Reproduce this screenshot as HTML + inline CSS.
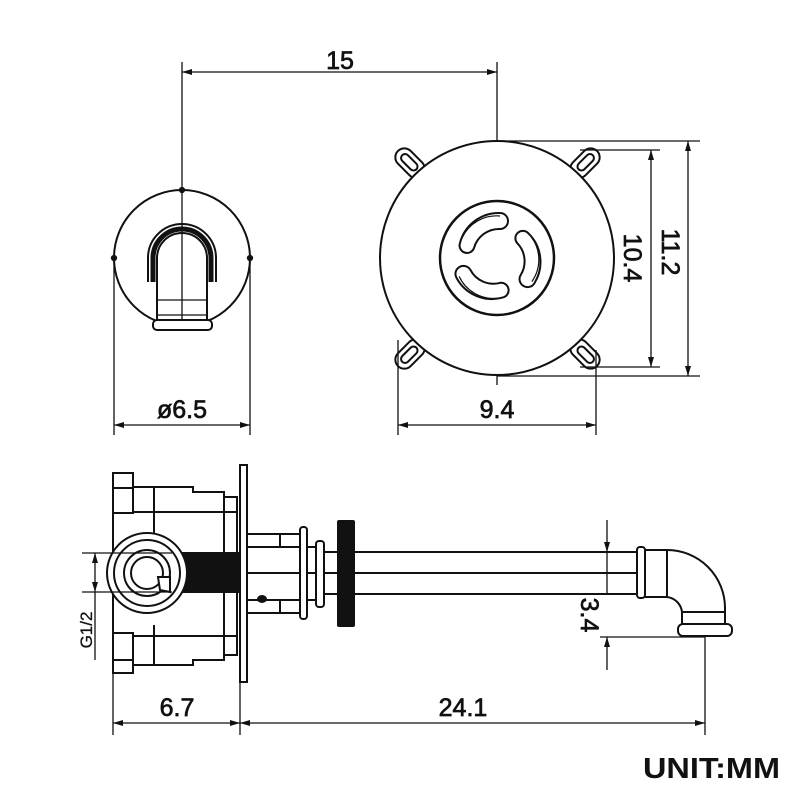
<!DOCTYPE html>
<html><head><meta charset="utf-8"><style>html,body{margin:0;padding:0;background:#fff}svg{display:block}text{font-family:"Liberation Sans",sans-serif;fill:#111}</style></head>
<body>
<svg width="800" height="800" viewBox="0 0 800 800" xmlns="http://www.w3.org/2000/svg">
<defs>
<marker id="a" viewBox="0 0 10 6" refX="10" refY="3" markerWidth="16" markerHeight="6" markerUnits="userSpaceOnUse" orient="auto-start-reverse"><path d="M0,0 L10,3 L0,6 z" fill="#111"/></marker>
</defs>
<g stroke="#111" fill="none" stroke-width="1.3">
<line x1="182" y1="62" x2="182" y2="330"/>
<line x1="497" y1="62" x2="497" y2="385"/>
<line x1="182" y1="72" x2="497" y2="72" marker-start="url(#a)" marker-end="url(#a)"/>
<circle cx="182" cy="258" r="68" stroke-width="2"/>
<circle cx="182" cy="190" r="2.5" fill="#111"/>
<circle cx="114" cy="258" r="2.5" fill="#111"/>
<circle cx="250" cy="258" r="2.5" fill="#111"/>
<path d="M148,282 L148,258 A34,34 0 0 1 216,258 L216,282" stroke-width="2"/>
<path d="M153,282 L153,258 A29,29 0 0 1 211,258 L211,282" stroke-width="5"/>
<path d="M157,320 L157,258 A25,25 0 0 1 207,258 L207,320" stroke-width="2"/>
<line x1="157" y1="300" x2="207" y2="300"/>
<line x1="157" y1="315" x2="207" y2="315"/>
<rect x="153" y="320" width="59" height="10" rx="4" stroke-width="2" fill="#fff"/>
<line x1="114" y1="258" x2="114" y2="435"/>
<line x1="250" y1="258" x2="250" y2="435"/>
<line x1="114" y1="425" x2="250" y2="425" marker-start="url(#a)" marker-end="url(#a)"/>
<g stroke-width="2">
<g transform="translate(410,163) rotate(-45)"><rect x="-9" y="-17" width="18" height="34" rx="9" fill="#fff"/><rect x="-4" y="-11" width="8" height="20" rx="4"/></g>
<g transform="translate(585,163) rotate(45)"><rect x="-9" y="-17" width="18" height="34" rx="9" fill="#fff"/><rect x="-4" y="-11" width="8" height="20" rx="4"/></g>
<g transform="translate(410,354) rotate(45)"><rect x="-9" y="-17" width="18" height="34" rx="9" fill="#fff"/><rect x="-4" y="-9" width="8" height="20" rx="4"/></g>
<g transform="translate(585,354) rotate(-45)"><rect x="-9" y="-17" width="18" height="34" rx="9" fill="#fff"/><rect x="-4" y="-9" width="8" height="20" rx="4"/></g>
<circle cx="497" cy="258" r="117" fill="#fff"/>
<circle cx="497" cy="258" r="57" stroke-width="2.5"/>
<g id="sl"><path d="M460,243 A40,40 0 0 1 500,213 A8,8 0 0 1 500,229 A26,26 0 0 0 474,248 A7,7 0 0 1 460,243 z"/><path d="M462,238 A38,38 0 0 1 500,216" stroke-width="1.2"/></g>
<use href="#sl" transform="rotate(120 497 258)"/>
<use href="#sl" transform="rotate(240 497 258)"/>
</g>
<line x1="497" y1="141" x2="700" y2="141"/>
<line x1="497" y1="376" x2="700" y2="376"/>
<line x1="580" y1="150" x2="660" y2="150"/>
<line x1="580" y1="367" x2="660" y2="367"/>
<line x1="651" y1="150" x2="651" y2="367" marker-start="url(#a)" marker-end="url(#a)"/>
<line x1="688" y1="141" x2="688" y2="376" marker-start="url(#a)" marker-end="url(#a)"/>
<line x1="398" y1="340" x2="398" y2="435"/>
<line x1="596" y1="350" x2="596" y2="435"/>
<line x1="398" y1="425" x2="596" y2="425" marker-start="url(#a)" marker-end="url(#a)"/>
<g stroke-width="2">
<rect x="113" y="473" width="20" height="40"/>
<line x1="113" y1="488" x2="133" y2="488"/>
<rect x="113" y="633" width="20" height="40"/>
<line x1="113" y1="660" x2="133" y2="660"/>
<line x1="113" y1="513" x2="113" y2="633"/>
<path d="M133,487 L193,487 L193,492 L224,492 L224,497 L237,497 L237,655 L224,655 L224,660 L193,660 L193,665 L133,665"/>
<line x1="133" y1="512" x2="237" y2="512"/>
<line x1="133" y1="636" x2="237" y2="636"/>
<line x1="154" y1="487" x2="154" y2="535"/>
<line x1="154" y1="625" x2="154" y2="665"/>
<line x1="224" y1="497" x2="224" y2="655"/>
<rect x="240" y="465" width="7" height="217" fill="#fff"/>
<rect x="172" y="553" width="68" height="39" fill="#111"/>
<circle cx="147" cy="573" r="40" fill="#fff"/>
<circle cx="147" cy="573" r="33"/>
<circle cx="147" cy="573" r="23"/>
<circle cx="147" cy="573" r="16"/>
<path d="M158,577 L170,577 L170,592 L160,590 z" fill="#fff"/>
<line x1="247" y1="534" x2="305" y2="534"/>
<line x1="247" y1="613" x2="305" y2="613"/>
<line x1="247" y1="547" x2="318" y2="547"/>
<line x1="247" y1="600" x2="318" y2="600"/>
<line x1="247" y1="573" x2="640" y2="573"/>
<line x1="280" y1="534" x2="280" y2="547"/>
<line x1="280" y1="600" x2="280" y2="613"/>
<rect x="300" y="527" width="7" height="92" rx="3" fill="#fff"/>
<rect x="316" y="541" width="8" height="66" rx="3" fill="#fff"/>
<line x1="324" y1="552" x2="640" y2="552"/>
<line x1="324" y1="594" x2="640" y2="594"/>
<rect x="337" y="520" width="18" height="107" rx="2" fill="#111" stroke="none"/>
<ellipse cx="262" cy="599" rx="4" ry="3" fill="#111"/>
<rect x="637" y="547" width="8" height="51" rx="3" fill="#fff"/>
<path d="M645,550 L667,550 A58,58 0 0 1 725,608 L725,624 L682,624 L682,612 A17,17 0 0 0 667,597 L645,597"/>
<line x1="667" y1="550" x2="667" y2="597"/>
<line x1="682" y1="612" x2="725" y2="612"/>
<rect x="678" y="624" width="54" height="12" rx="5" fill="#fff"/>
</g>
<line x1="82" y1="553" x2="172" y2="553"/>
<line x1="82" y1="592" x2="172" y2="592"/>
<line x1="95" y1="553" x2="95" y2="592" marker-start="url(#a)" marker-end="url(#a)"/>
<line x1="95" y1="592" x2="95" y2="660"/>
<line x1="113" y1="673" x2="113" y2="735"/>
<line x1="240" y1="682" x2="240" y2="735"/>
<line x1="705" y1="636" x2="705" y2="735"/>
<line x1="113" y1="723" x2="240" y2="723" marker-start="url(#a)" marker-end="url(#a)"/>
<line x1="240" y1="723" x2="705" y2="723" marker-start="url(#a)" marker-end="url(#a)"/>
<line x1="600" y1="637" x2="705" y2="637"/>
<line x1="607" y1="520" x2="607" y2="552" marker-end="url(#a)"/>
<line x1="607" y1="552" x2="607" y2="594"/>
<line x1="607" y1="670" x2="607" y2="637" marker-end="url(#a)"/>
</g>
<g font-size="25" stroke="#111" stroke-width="0.7">
<text x="340" y="69" text-anchor="middle">15</text>
<text x="182" y="418" text-anchor="middle">ø6.5</text>
<text x="497" y="418" text-anchor="middle">9.4</text>
<text transform="translate(624,258) rotate(90)" text-anchor="middle">10.4</text>
<text transform="translate(662,252) rotate(90)" text-anchor="middle">11.2</text>
<text transform="translate(581,615) rotate(90)" text-anchor="middle">3.4</text>
<text x="177" y="716" text-anchor="middle">6.7</text>
<text x="463" y="716" text-anchor="middle">24.1</text>
</g>
<text transform="translate(92,630) rotate(-90)" text-anchor="middle" font-size="17" stroke="#111" stroke-width="0.3">G1/2</text>
<text x="643" y="778" font-size="29" font-weight="bold" textLength="137" lengthAdjust="spacingAndGlyphs">UNIT:MM</text>
</svg>
</body></html>
